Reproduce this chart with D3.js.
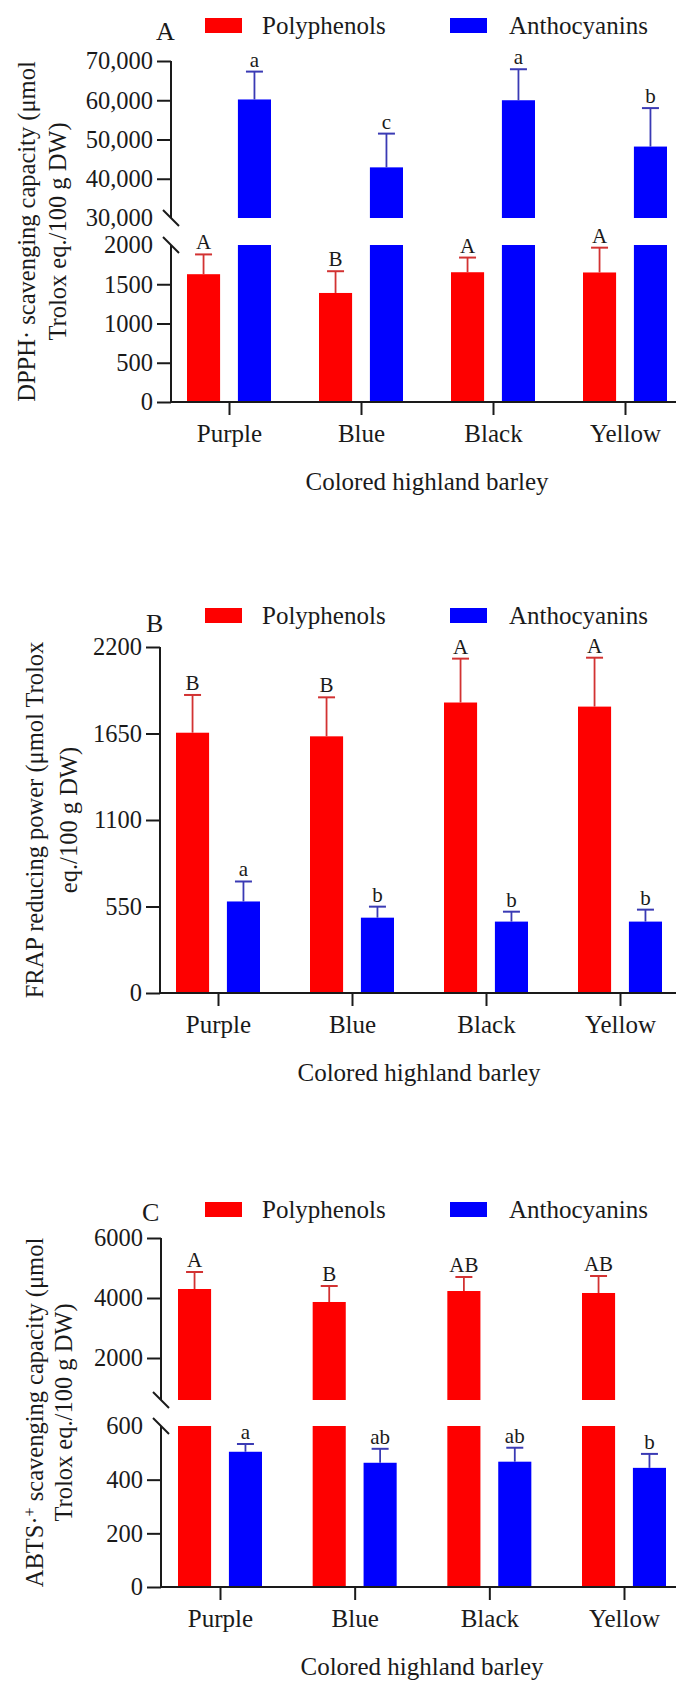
<!DOCTYPE html>
<html><head><meta charset="utf-8">
<script src="https://cdn.jsdelivr.net/npm/d3@7"></script>
<style>body{margin:0;background:#fff}svg{display:block}</style>
</head><body><svg id="c" width="676" height="1683"></svg>
<script>
const categories = ["Purple","Blue","Black","Yellow"];
const seriesNames = ["Polyphenols","Anthocyanins"];

// Panel A – DPPH
const dpphPoly = [1628, 1389, 1653, 1650];
const dpphPolyErr = [252, 277, 187, 316];
const dpphPolyLetters = ["A","B","A","A"];
const dpphAntho = [60200, 42900, 60000, 48200];
const dpphAnthoErr = [7100, 8600, 7900, 9800];
const dpphAnthoLetters = ["a","c","a","b"];
const dpphLowerTicks = [0, 500, 1000, 1500, 2000];
const dpphUpperTicks = [30000, 40000, 50000, 60000, 70000];

// Panel B – FRAP
const frapPoly = [1655, 1632, 1847, 1821];
const frapPolyErr = [240, 248, 279, 311];
const frapPolyLetters = ["B","B","A","A"];
const frapAntho = [582, 479, 454, 454];
const frapAnthoErr = [127, 70, 63, 76];
const frapAnthoLetters = ["a","b","b","b"];
const frapTicks = [0, 550, 1100, 1650, 2200];

// Panel C – ABTS
const abtsPoly = [4300, 3867, 4233, 4167];
const abtsPolyErr = [567, 533, 467, 566];
const abtsPolyLetters = ["A","B","AB","AB"];
const abtsAntho = [504, 463, 467, 444];
const abtsAnthoErr = [29, 52, 52, 52];
const abtsAnthoLetters = ["a","ab","ab","b"];
const abtsLowerTicks = [0, 200, 400, 600];
const abtsUpperTicks = [2000, 4000, 6000];

const xTitle = "Colored highland barley";

const FONT = "'Liberation Serif','Times New Roman',serif";
const TXT = "#1a1a1a";
const barColors = ["#fe0000", "#0000fe"];
const errColors = ["#d23232", "#3a3ab4"];

const svg = d3.select("#c");

function panel(p) {
  const g = svg.append("g");
  const x = d3.scalePoint().domain(categories).range(p.catRange);
  const sub = d3.scaleBand().domain(seriesNames).range([-42, 42]).paddingInner(0.35);
  const segs = p.segments.map(s => Object.assign({}, s, {
    y: d3.scaleLinear().domain(s.domain).range(s.range)
  }));

  // bars
  p.series.forEach((ser, si) => {
    const rows = ser.values.map((v, i) => ({cat: categories[i], v, e: ser.err[i], lab: ser.letters[i]}));
    segs.forEach(s => {
      g.append("g").selectAll("rect")
        .data(rows.filter(d => d.v > s.domain[0]))
        .join("rect")
        .attr("x", d => x(d.cat) + sub(seriesNames[si]))
        .attr("width", sub.bandwidth())
        .attr("y", d => s.y(Math.min(d.v, s.domain[1])))
        .attr("height", d => s.y(s.domain[0]) - s.y(Math.min(d.v, s.domain[1])))
        .attr("fill", barColors[si]);
    });
    // error bars + letters
    const eg = g.append("g");
    rows.forEach(d => {
      const s = segs.find(s => d.v >= s.domain[0] && d.v <= s.domain[1]);
      const cx = x(d.cat) + sub(seriesNames[si]) + sub.bandwidth() / 2;
      const y0 = s.y(d.v), y1 = s.y(d.v + d.e);
      eg.append("line").attr("x1", cx).attr("x2", cx).attr("y1", y0).attr("y2", y1)
        .attr("stroke", errColors[si]).attr("stroke-width", 1.8);
      eg.append("line").attr("x1", cx - 8.5).attr("x2", cx + 8.5).attr("y1", y1).attr("y2", y1)
        .attr("stroke", errColors[si]).attr("stroke-width", 2);
      eg.append("text").attr("x", cx).attr("y", y1 - 5).attr("text-anchor", "middle")
        .attr("font-family", FONT).attr("font-size", 21).attr("fill", TXT).text(d.lab);
    });
  });

  // y axes per segment
  segs.forEach(s => {
    const ax = g.append("g").attr("transform", `translate(${p.axisX},0)`)
      .call(d3.axisLeft(s.y).tickValues(s.ticks).tickFormat(s.fmt).tickSize(14).tickPadding(4));
    ax.select(".domain").remove();
    ax.selectAll(".tick line").attr("stroke", "#1a1a1a").attr("stroke-width", 2)
      .filter(d => (s.noTick || []).includes(d)).remove();
    ax.selectAll(".tick text").attr("font-family", FONT).attr("font-size", 24.5).attr("fill", TXT);
    g.append("line").attr("x1", p.axisX).attr("x2", p.axisX)
      .attr("y1", s.range[0] + (s.domain[0] === 0 ? 1 : 0)).attr("y2", s.range[1])
      .attr("stroke", "#1a1a1a").attr("stroke-width", 2);
    (s.breaks || []).forEach(v => {
      const yy = s.y(v);
      g.append("line").attr("x1", p.axisX - 8).attr("x2", p.axisX + 8)
        .attr("y1", yy - 8).attr("y2", yy + 8)
        .attr("stroke", "#1a1a1a").attr("stroke-width", 2);
    });
  });

  // x axis
  g.append("line").attr("x1", p.axisX).attr("x2", 676).attr("y1", p.baseY).attr("y2", p.baseY)
    .attr("stroke", "#1a1a1a").attr("stroke-width", 2);
  const xa = g.append("g").attr("transform", `translate(0,${p.baseY})`)
    .call(d3.axisBottom(x).tickSize(13));
  xa.select(".domain").remove();
  xa.selectAll(".tick line").attr("stroke", "#1a1a1a").attr("stroke-width", 2);
  xa.selectAll(".tick text").attr("y", 40).attr("dy", 0)
    .attr("font-family", FONT).attr("font-size", 25).attr("fill", TXT);

  g.append("text").attr("x", (p.catRange[0] + p.catRange[1]) / 2).attr("y", p.baseY + 88)
    .attr("text-anchor", "middle").attr("font-family", FONT).attr("font-size", 25)
    .attr("fill", TXT).text(xTitle);

  // y title
  const cy = (p.axisTop + p.baseY) / 2;
  p.title.forEach((line, i) => {
    const t = g.append("text")
      .attr("transform", `translate(${p.titleX[i]},${cy}) rotate(-90)`)
      .attr("text-anchor", "middle").attr("font-family", FONT).attr("font-size", 24.5).attr("fill", TXT);
    line.forEach(part => {
      const ts = t.append("tspan").text(part.t);
      if (part.sup) ts.attr("baseline-shift", "super").attr("font-size", 16);
    });
  });

  // panel letter
  g.append("text").attr("x", p.letterX).attr("y", p.letterY).attr("font-family", FONT)
    .attr("font-size", 26).attr("fill", TXT).text(p.letter);

  // legend
  const lg = g.append("g");
  seriesNames.forEach((n, i) => {
    lg.append("rect").attr("x", [205, 450][i]).attr("y", p.legendY - 16).attr("width", 37).attr("height", 15)
      .attr("fill", barColors[i]);
    lg.append("text").attr("x", [262, 509][i]).attr("y", p.legendY).attr("font-family", FONT)
      .attr("font-size", 25).attr("fill", TXT).text(n);
  });
}

const fmtComma = d3.format(",");
const fmtPlain = d3.format("d");

panel({
  letter: "A", letterX: 156, letterY: 40, legendY: 34,
  axisX: 171, baseY: 402, axisTop: 61, catRange: [229, 625],
  segments: [
    {domain: [0, 2000], range: [402, 245], ticks: dpphLowerTicks, fmt: fmtPlain, noTick: [2000], breaks: [2000]},
    {domain: [30000, 70000], range: [218, 61], ticks: dpphUpperTicks, fmt: fmtComma, noTick: [30000], breaks: [30000]}
  ],
  series: [
    {values: dpphPoly, err: dpphPolyErr, letters: dpphPolyLetters},
    {values: dpphAntho, err: dpphAnthoErr, letters: dpphAnthoLetters}
  ],
  title: [[{t: "DPPH· scavenging capacity (μmol"}], [{t: "Trolox eq./100 g DW)"}]],
  titleX: [35, 66]
});

panel({
  letter: "B", letterX: 146, letterY: 632, legendY: 624,
  axisX: 160, baseY: 993, axisTop: 647, catRange: [218, 620],
  segments: [
    {domain: [0, 2200], range: [993, 647], ticks: frapTicks, fmt: fmtPlain}
  ],
  series: [
    {values: frapPoly, err: frapPolyErr, letters: frapPolyLetters},
    {values: frapAntho, err: frapAnthoErr, letters: frapAnthoLetters}
  ],
  title: [[{t: "FRAP reducing power (μmol Trolox"}], [{t: "eq./100 g DW)"}]],
  titleX: [43, 77]
});

panel({
  letter: "C", letterX: 142, letterY: 1221, legendY: 1218,
  axisX: 161, baseY: 1587, axisTop: 1238, catRange: [220, 624],
  segments: [
    {domain: [0, 600], range: [1587, 1426], ticks: abtsLowerTicks, fmt: fmtPlain, noTick: [600], breaks: [600]},
    {domain: [600, 6000], range: [1400, 1238], ticks: abtsUpperTicks, fmt: fmtPlain, breaks: [600]}
  ],
  series: [
    {values: abtsPoly, err: abtsPolyErr, letters: abtsPolyLetters},
    {values: abtsAntho, err: abtsAnthoErr, letters: abtsAnthoLetters}
  ],
  title: [[{t: "ABTS·"}, {t: "+", sup: true}, {t: " scavenging capacity (μmol"}], [{t: "Trolox eq./100 g DW)"}]],
  titleX: [43, 72]
});
</script>
</body></html>
